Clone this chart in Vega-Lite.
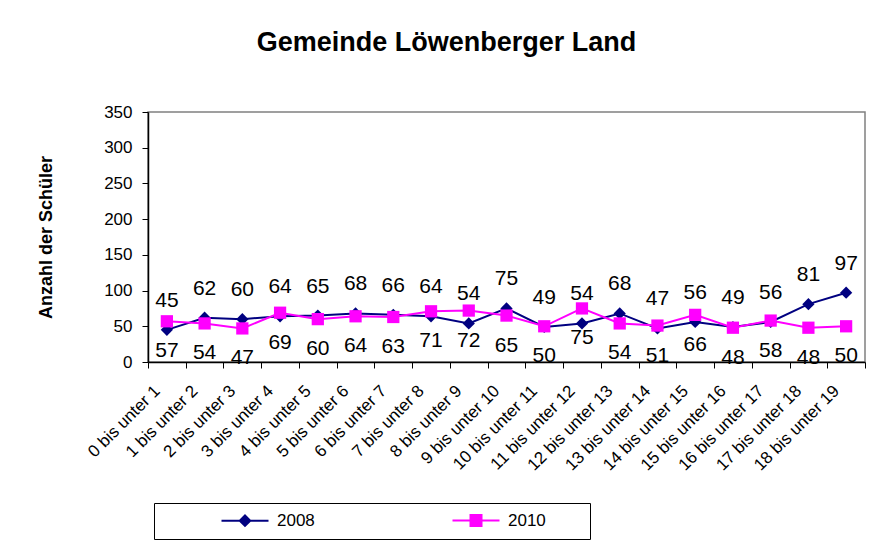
{
  "$schema": "https://vega.github.io/schema/vega-lite/v6.json",
  "width": 717,
  "height": 250,
  "autosize": {"type": "none"},
  "padding": {"left": 148, "top": 112, "right": 4, "bottom": 178},
  "background": "white",
  "config": {
    "font": "Liberation Sans",
    "view": {"stroke": "#808080", "strokeWidth": 1.5}
  },
  "title": {
    "text": "Gemeinde Löwenberger Land",
    "font": "Liberation Sans",
    "fontSize": 27,
    "fontWeight": "bold",
    "color": "black",
    "anchor": "middle",
    "frame": "group",
    "dx": -60,
    "offset": 46
  },
  "data": {
    "values": [
      {"age": "0 bis unter 1", "year": "2008", "value": 45},
      {"age": "1 bis unter 2", "year": "2008", "value": 62},
      {"age": "2 bis unter 3", "year": "2008", "value": 60},
      {"age": "3 bis unter 4", "year": "2008", "value": 64},
      {"age": "4 bis unter 5", "year": "2008", "value": 65},
      {"age": "5 bis unter 6", "year": "2008", "value": 68},
      {"age": "6 bis unter 7", "year": "2008", "value": 66},
      {"age": "7 bis unter 8", "year": "2008", "value": 64},
      {"age": "8 bis unter 9", "year": "2008", "value": 54},
      {"age": "9 bis unter 10", "year": "2008", "value": 75},
      {"age": "10 bis unter 11", "year": "2008", "value": 49},
      {"age": "11 bis unter 12", "year": "2008", "value": 54},
      {"age": "12 bis unter 13", "year": "2008", "value": 68},
      {"age": "13 bis unter 14", "year": "2008", "value": 47},
      {"age": "14 bis unter 15", "year": "2008", "value": 56},
      {"age": "15 bis unter 16", "year": "2008", "value": 49},
      {"age": "16 bis unter 17", "year": "2008", "value": 56},
      {"age": "17 bis unter 18", "year": "2008", "value": 81},
      {"age": "18 bis unter 19", "year": "2008", "value": 97},
      {"age": "0 bis unter 1", "year": "2010", "value": 57},
      {"age": "1 bis unter 2", "year": "2010", "value": 54},
      {"age": "2 bis unter 3", "year": "2010", "value": 47},
      {"age": "3 bis unter 4", "year": "2010", "value": 69},
      {"age": "4 bis unter 5", "year": "2010", "value": 60},
      {"age": "5 bis unter 6", "year": "2010", "value": 64},
      {"age": "6 bis unter 7", "year": "2010", "value": 63},
      {"age": "7 bis unter 8", "year": "2010", "value": 71},
      {"age": "8 bis unter 9", "year": "2010", "value": 72},
      {"age": "9 bis unter 10", "year": "2010", "value": 65},
      {"age": "10 bis unter 11", "year": "2010", "value": 50},
      {"age": "11 bis unter 12", "year": "2010", "value": 75},
      {"age": "12 bis unter 13", "year": "2010", "value": 54},
      {"age": "13 bis unter 14", "year": "2010", "value": 51},
      {"age": "14 bis unter 15", "year": "2010", "value": 66},
      {"age": "15 bis unter 16", "year": "2010", "value": 48},
      {"age": "16 bis unter 17", "year": "2010", "value": 58},
      {"age": "17 bis unter 18", "year": "2010", "value": 48},
      {"age": "18 bis unter 19", "year": "2010", "value": 50}
    ]
  },
  "encoding": {
    "x": {
      "field": "age",
      "type": "nominal",
      "sort": null,
      "scale": {"type": "band", "paddingInner": 0, "paddingOuter": 0},
      "axis": {
        "title": null,
        "labelAngle": -45,
        "labelAlign": "right",
        "labelBaseline": "middle",
        "labelPadding": 20,
        "labelOffset": -10,
        "labelFontSize": 17,
        "labelColor": "black",
        "labelOverlap": false,
        "labelBound": false,
        "tickBand": "extent",
        "tickSize": 6,
        "tickColor": "black",
        "domainColor": "black",
        "domainWidth": 1.5,
        "grid": false
      }
    },
    "y": {
      "field": "value",
      "type": "quantitative",
      "scale": {"domain": [0, 350], "nice": false},
      "axis": {
        "values": [0, 50, 100, 150, 200, 250, 300, 350],
        "grid": false,
        "tickSize": 6,
        "tickColor": "black",
        "domainColor": "black",
        "domainWidth": 1.5,
        "labelFontSize": 17,
        "labelColor": "black",
        "labelPadding": 10,
        "title": "Anzahl der Schüler",
        "titleFontSize": 18,
        "titleFontWeight": "bold",
        "titleColor": "black",
        "titlePadding": 48
      }
    }
  },
  "layer": [
    {
      "mark": {"type": "line", "strokeWidth": 2},
      "encoding": {
        "color": {
          "field": "year",
          "type": "nominal",
          "scale": {"domain": ["2008", "2010"], "range": ["#000080", "#FF00FF"]},
          "legend": {
            "orient": "none",
            "legendX": 6,
            "legendY": 391,
            "direction": "horizontal",
            "title": "\u00a0",
            "titleOrient": "left",
            "titleFontSize": 17,
            "titlePadding": 55,
            "strokeColor": "black",
            "fillColor": "white",
            "padding": 9,
            "labelFontSize": 17,
            "labelColor": "black",
            "labelFont": "Liberation Sans",
            "symbolSize": 100,
            "symbolType": "M-1,0H1",
            "labelOffset": 42,
            "columnPadding": 133,
            "encode": {
              "symbols": {
                "update": {
                  "shape": {"signal": "datum.value == '2008' ? 'M-1,0H8.4M3.7,-1.05L4.75,0L3.7,1.05L2.65,0Z' : 'M23.8,0M-1,0H8.4M2.6,-1.1H4.8V1.1H2.6Z'"},
                  "fill": {"signal": "scale('color', datum.value)"},
                  "stroke": {"signal": "scale('color', datum.value)"},
                  "strokeWidth": {"value": 2},
                  "size": {"value": 100},
                  "opacity": {"value": 1}
                }
              }
            }
          }
        }
      }
    },
    {
      "transform": [{"filter": "datum.year == '2008'"}],
      "mark": {"type": "point", "filled": true, "size": 150, "opacity": 1, "shape": "diamond", "color": "#000080"},
      "encoding": {}
    },
    {
      "transform": [{"filter": "datum.year == '2010'"}],
      "mark": {"type": "point", "filled": true, "size": 150, "opacity": 1, "shape": "square", "color": "#FF00FF"},
      "encoding": {}
    },
    {
      "transform": [{"filter": "datum.year == '2008'"}],
      "mark": {"type": "text", "dy": -29, "fontSize": 21, "color": "black", "font": "Liberation Sans"},
      "encoding": {"text": {"field": "value", "type": "quantitative"}}
    },
    {
      "transform": [{"filter": "datum.year == '2010'"}],
      "mark": {"type": "text", "dy": 30, "fontSize": 21, "color": "black", "font": "Liberation Sans"},
      "encoding": {"text": {"field": "value", "type": "quantitative"}}
    }
  ]
}
